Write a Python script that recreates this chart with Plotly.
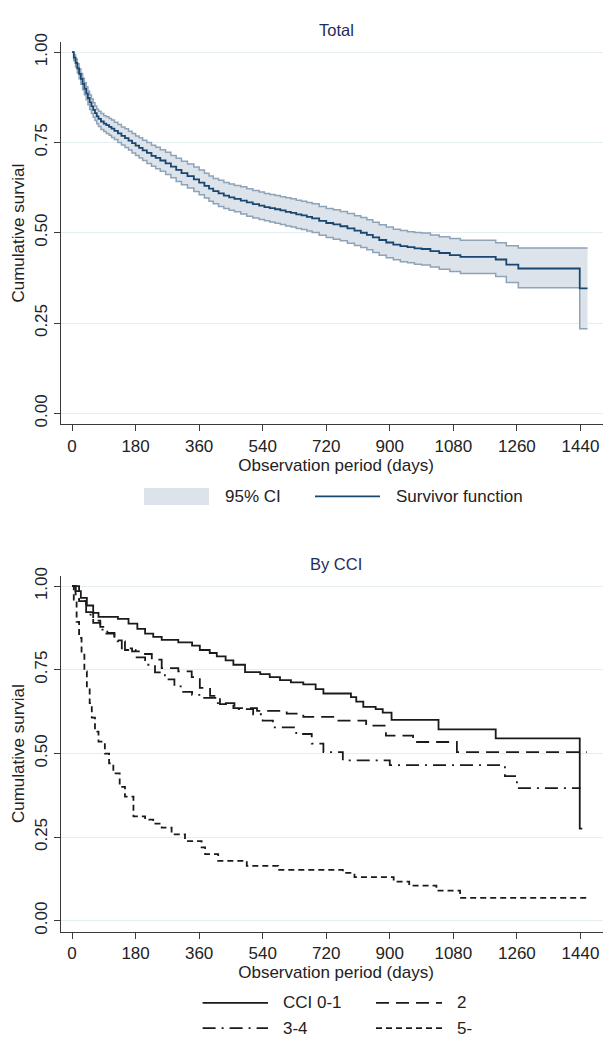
import plotly.graph_objects as go

# ---------------- data ----------------
x_tick_vals = [0, 180, 360, 540, 720, 900, 1080, 1260, 1440]
y_tick_vals = [0, 0.25, 0.5, 0.75, 1.0]
y_tick_text = ["0.00", "0.25", "0.50", "0.75", "1.00"]

# Total: Kaplan-Meier survivor function with 95% CI
days_total = [0, 5, 10, 15, 20, 25, 30, 35, 40, 45, 50, 55, 60, 65, 70, 75, 82, 90, 97, 105, 112,
              120, 130, 140, 150, 160, 170, 180, 190, 200, 212, 225, 237, 250, 265, 280, 295, 310,
              327, 345, 360, 375, 388, 400, 415, 430, 445, 460, 478, 495, 512, 530, 545, 560, 575,
              590, 605, 620, 635, 650, 665, 680, 700, 720, 740, 760, 780, 800, 818, 835, 852, 870,
              890, 910, 930, 950, 970, 990, 1015, 1040, 1070, 1100, 1200, 1230, 1264, 1438, 1460]
surv_total = [1.000, 0.985, 0.970, 0.955, 0.940, 0.926, 0.912, 0.899, 0.886, 0.873, 0.861, 0.850,
              0.840, 0.831, 0.822, 0.815, 0.808, 0.802, 0.798, 0.793, 0.788, 0.782, 0.775, 0.768,
              0.762, 0.755, 0.748, 0.741, 0.735, 0.728, 0.721, 0.713, 0.707, 0.700, 0.692, 0.683,
              0.674, 0.665, 0.657, 0.648, 0.639, 0.630, 0.622, 0.615, 0.609, 0.603, 0.598, 0.594,
              0.589, 0.584, 0.579, 0.575, 0.571, 0.568, 0.565, 0.562, 0.558, 0.555, 0.551, 0.548,
              0.544, 0.540, 0.533, 0.527, 0.523, 0.518, 0.512, 0.506, 0.500, 0.494, 0.487, 0.480,
              0.473, 0.467, 0.463, 0.460, 0.457, 0.455, 0.449, 0.444, 0.438, 0.433, 0.426, 0.412,
              0.401, 0.346, 0.346]
ci_upper = [1.000, 0.993, 0.981, 0.968, 0.954, 0.941, 0.928, 0.916, 0.904, 0.892, 0.881, 0.870,
            0.860, 0.851, 0.842, 0.836, 0.830, 0.824, 0.821, 0.816, 0.812, 0.806, 0.800, 0.793,
            0.788, 0.781, 0.775, 0.768, 0.763, 0.756, 0.750, 0.742, 0.737, 0.730, 0.723, 0.714,
            0.706, 0.698, 0.690, 0.682, 0.674, 0.665, 0.657, 0.650, 0.645, 0.639, 0.635, 0.631,
            0.627, 0.622, 0.617, 0.613, 0.609, 0.606, 0.603, 0.600, 0.597, 0.594, 0.590, 0.587,
            0.584, 0.580, 0.573, 0.567, 0.564, 0.559, 0.553, 0.547, 0.542, 0.536, 0.529, 0.522,
            0.516, 0.510, 0.506, 0.503, 0.501, 0.499, 0.494, 0.489, 0.484, 0.479, 0.472, 0.464,
            0.458, 0.458, 0.458]
ci_lower = [1.000, 0.977, 0.959, 0.942, 0.926, 0.911, 0.896, 0.882, 0.868, 0.854, 0.841, 0.830,
            0.820, 0.811, 0.802, 0.794, 0.786, 0.780, 0.775, 0.770, 0.764, 0.758, 0.750, 0.743,
            0.736, 0.729, 0.721, 0.714, 0.707, 0.700, 0.692, 0.684, 0.677, 0.670, 0.661, 0.652,
            0.642, 0.633, 0.624, 0.614, 0.605, 0.596, 0.587, 0.580, 0.573, 0.567, 0.562, 0.558,
            0.552, 0.546, 0.541, 0.537, 0.533, 0.530, 0.526, 0.523, 0.519, 0.516, 0.512, 0.509,
            0.505, 0.501, 0.493, 0.487, 0.482, 0.478, 0.471, 0.465, 0.459, 0.453, 0.445, 0.438,
            0.431, 0.425, 0.420, 0.417, 0.413, 0.411, 0.405, 0.399, 0.393, 0.387, 0.379, 0.362,
            0.348, 0.234, 0.234]

# By CCI
days_cci01 = [0, 10, 25, 42, 60, 75, 130, 160, 185, 207, 230, 254, 301, 340, 362, 390, 410, 435,
              457, 490, 533, 560, 589, 620, 655, 690, 712, 790, 805, 825, 860, 880, 905, 1038,
              1200, 1438, 1445]
surv_cci01 = [1.000, 0.985, 0.965, 0.942, 0.920, 0.908, 0.902, 0.888, 0.872, 0.858, 0.848, 0.839,
              0.832, 0.822, 0.809, 0.800, 0.790, 0.778, 0.765, 0.743, 0.737, 0.728, 0.719, 0.712,
              0.706, 0.692, 0.679, 0.668, 0.655, 0.639, 0.632, 0.622, 0.600, 0.572, 0.545, 0.275,
              0.275]

days_cci2 = [0, 10, 20, 40, 60, 80, 100, 120, 141, 170, 197, 226, 254, 301, 339, 362, 391, 419,
             457, 524, 608, 655, 745, 833, 889, 966, 1090, 1458]
surv_cci2 = [1.000, 0.975, 0.955, 0.922, 0.897, 0.878, 0.860, 0.838, 0.814, 0.805, 0.797, 0.780,
             0.755, 0.745, 0.728, 0.696, 0.672, 0.647, 0.635, 0.627, 0.619, 0.609, 0.598, 0.583,
             0.553, 0.534, 0.504, 0.504]

days_cci34 = [0, 20, 40, 60, 80, 93, 120, 150, 180, 207, 235, 263, 290, 311, 340, 367, 410, 460,
              513, 540, 569, 635, 679, 712, 767, 900, 1226, 1260, 1440]
surv_cci34 = [1.000, 0.955, 0.915, 0.890, 0.870, 0.858, 0.835, 0.809, 0.787, 0.765, 0.742, 0.721,
              0.700, 0.684, 0.675, 0.666, 0.650, 0.632, 0.617, 0.598, 0.578, 0.558, 0.529, 0.504,
              0.479, 0.465, 0.432, 0.396, 0.396]

days_cci5 = [0, 5, 13, 20, 27, 35, 42, 50, 56, 65, 75, 93, 105, 117, 135, 150, 174, 207, 230,
             254, 282, 320, 367, 377, 414, 495, 584, 767, 800, 911, 955, 1032, 1099, 1457]
surv_cci5 = [1.000, 0.960, 0.893, 0.845, 0.795, 0.745, 0.696, 0.650, 0.607, 0.565, 0.535, 0.499,
             0.470, 0.440, 0.400, 0.371, 0.312, 0.302, 0.290, 0.278, 0.258, 0.238, 0.219, 0.199,
             0.179, 0.164, 0.152, 0.143, 0.130, 0.117, 0.105, 0.090, 0.068, 0.068]

legend_top = ["95% CI", "Survivor function"]
legend_bottom = ["CCI 0-1", "2", "3-4", "5-"]

# ---------------- styling ----------------
# the page body adds an 8px margin, so the figure is 8px smaller and all
# reference pixel positions are shifted by 8px
OFF = 8
W, H = 611 - OFF, 1041 - OFF
ML = 61 - OFF
FONT = "Liberation Sans, Arial, Helvetica, sans-serif"
FS = 17
TXT = "#222222"
AX = "#3a3a3a"
GRID = "#e4eef0"
NAVY = "#1a476f"
CI_FILL = "#dde3ea"
CI_LINE = "#8fa3b8"
BLK = "#1a1a1a"
TITLE_C = "#1f2d5c"


def py(ref_px):
    return 1 - (ref_px - OFF) / H


def pxx(ref_px):
    return (ref_px - OFF - ML) / (W - ML)


fig = go.Figure()

# Top panel
fig.add_trace(go.Scatter(x=days_total, y=ci_lower, mode="lines", line_shape="hv",
                         line=dict(color=CI_LINE, width=1.5), xaxis="x", yaxis="y",
                         showlegend=False, name="95% CI lower"))
fig.add_trace(go.Scatter(x=days_total, y=ci_upper, mode="lines", line_shape="hv",
                         line=dict(color=CI_LINE, width=1.5), fill="tonexty", fillcolor=CI_FILL,
                         xaxis="x", yaxis="y", showlegend=False, name=legend_top[0]))
fig.add_trace(go.Scatter(x=days_total, y=surv_total, mode="lines", line_shape="hv",
                         line=dict(color=NAVY, width=1.8), xaxis="x", yaxis="y",
                         showlegend=False, name=legend_top[1]))

# Bottom panel
styles = [("solid", 1.8), ("13px,7px", 1.8), ("13px,6px,2px,6px", 1.8), ("6px,4px", 1.8)]
series = [(days_cci01, surv_cci01), (days_cci2, surv_cci2), (days_cci34, surv_cci34),
          (days_cci5, surv_cci5)]
for (d, s), (dash, w), nm in zip(series, styles, legend_bottom):
    fig.add_trace(go.Scatter(x=d, y=s, mode="lines", line_shape="hv",
                             line=dict(color=BLK, width=w, dash=dash), xaxis="x2", yaxis="y2",
                             showlegend=False, name=nm))

x_range = [-31.2, 1526.5]
xcommon = dict(range=x_range, tickvals=x_tick_vals, ticks="outside", ticklen=6, tickwidth=1.2,
               tickcolor=AX, showline=True, linecolor=AX, linewidth=1.3, showgrid=False,
               zeroline=False, tickfont=dict(size=FS, color=TXT, family=FONT),
               title=dict(text="Observation period (days)",
                          font=dict(size=FS, color=TXT, family=FONT), standoff=1))
ycommon = dict(tickvals=y_tick_vals, ticktext=y_tick_text, tickangle=-90, ticks="outside", ticklen=6,
               tickwidth=1.2, tickcolor=AX, showline=True, linecolor=AX, linewidth=1.3,
               showgrid=True, gridcolor=GRID, gridwidth=1, zeroline=False,
               tickfont=dict(size=FS, color=TXT, family=FONT),
               title=dict(text="Cumulative survial", font=dict(size=FS, color=TXT, family=FONT),
                          standoff=3))

fig.update_layout(
    width=W, height=H, margin=dict(l=ML, r=0, t=0, b=0),
    paper_bgcolor="white", plot_bgcolor="white",
    font=dict(family=FONT, size=FS, color=TXT),
    showlegend=False,
    xaxis=dict(domain=[0, 1], anchor="y", **xcommon),
    yaxis=dict(domain=[py(420), py(33.3)], anchor="x", range=[-0.030, 1.028], **ycommon),
    xaxis2=dict(domain=[0, 1], anchor="y2", **xcommon),
    yaxis2=dict(domain=[py(933.3), py(573.3)], anchor="x2", range=[-0.0325, 1.031], **ycommon),
)

ann = []
ann.append(dict(text="Total", x=0.5, y=py(21), xref="paper", yref="paper", showarrow=False,
                xanchor="center", yanchor="middle",
                font=dict(size=16.5, color=TITLE_C, family=FONT)))
ann.append(dict(text="By CCI", x=0.5, y=py(561), xref="paper", yref="paper", showarrow=False,
                xanchor="center", yanchor="middle",
                font=dict(size=16.5, color=TITLE_C, family=FONT)))

shapes = []
# Top legend
shapes.append(dict(type="rect", xref="paper", yref="paper", x0=pxx(144), x1=pxx(209),
                   y0=py(501.7), y1=py(484.5), fillcolor=CI_FILL, line=dict(width=0)))
ann.append(dict(text=legend_top[0], x=pxx(223), y=py(493), xref="paper", yref="paper",
                showarrow=False, xanchor="left", yanchor="middle",
                font=dict(size=FS, color=TXT, family=FONT)))
shapes.append(dict(type="line", xref="paper", yref="paper", x0=pxx(315), x1=pxx(380),
                   y0=py(493), y1=py(493), line=dict(color=NAVY, width=1.8)))
ann.append(dict(text=legend_top[1], x=pxx(394), y=py(493), xref="paper", yref="paper",
                showarrow=False, xanchor="left", yanchor="middle",
                font=dict(size=FS, color=TXT, family=FONT)))

# Bottom legend (2 x 2)
pos = [(202.6, 268, 281.4, 1005.5), (376, 442, 455, 1005.5),
       (202.6, 268, 281.4, 1031), (376, 442, 455, 1031)]
for (x0, x1, xt, yy), (dash, w), nm in zip(pos, styles, legend_bottom):
    shapes.append(dict(type="line", xref="paper", yref="paper", x0=pxx(x0), x1=pxx(x1),
                       y0=py(yy), y1=py(yy), line=dict(color=BLK, width=w, dash=dash)))
    ann.append(dict(text=nm, x=pxx(xt), y=py(yy), xref="paper", yref="paper", showarrow=False,
                    xanchor="left", yanchor="middle", font=dict(size=FS, color=TXT, family=FONT)))

fig.update_layout(annotations=ann, shapes=shapes)
fig.write_html("out.html")
